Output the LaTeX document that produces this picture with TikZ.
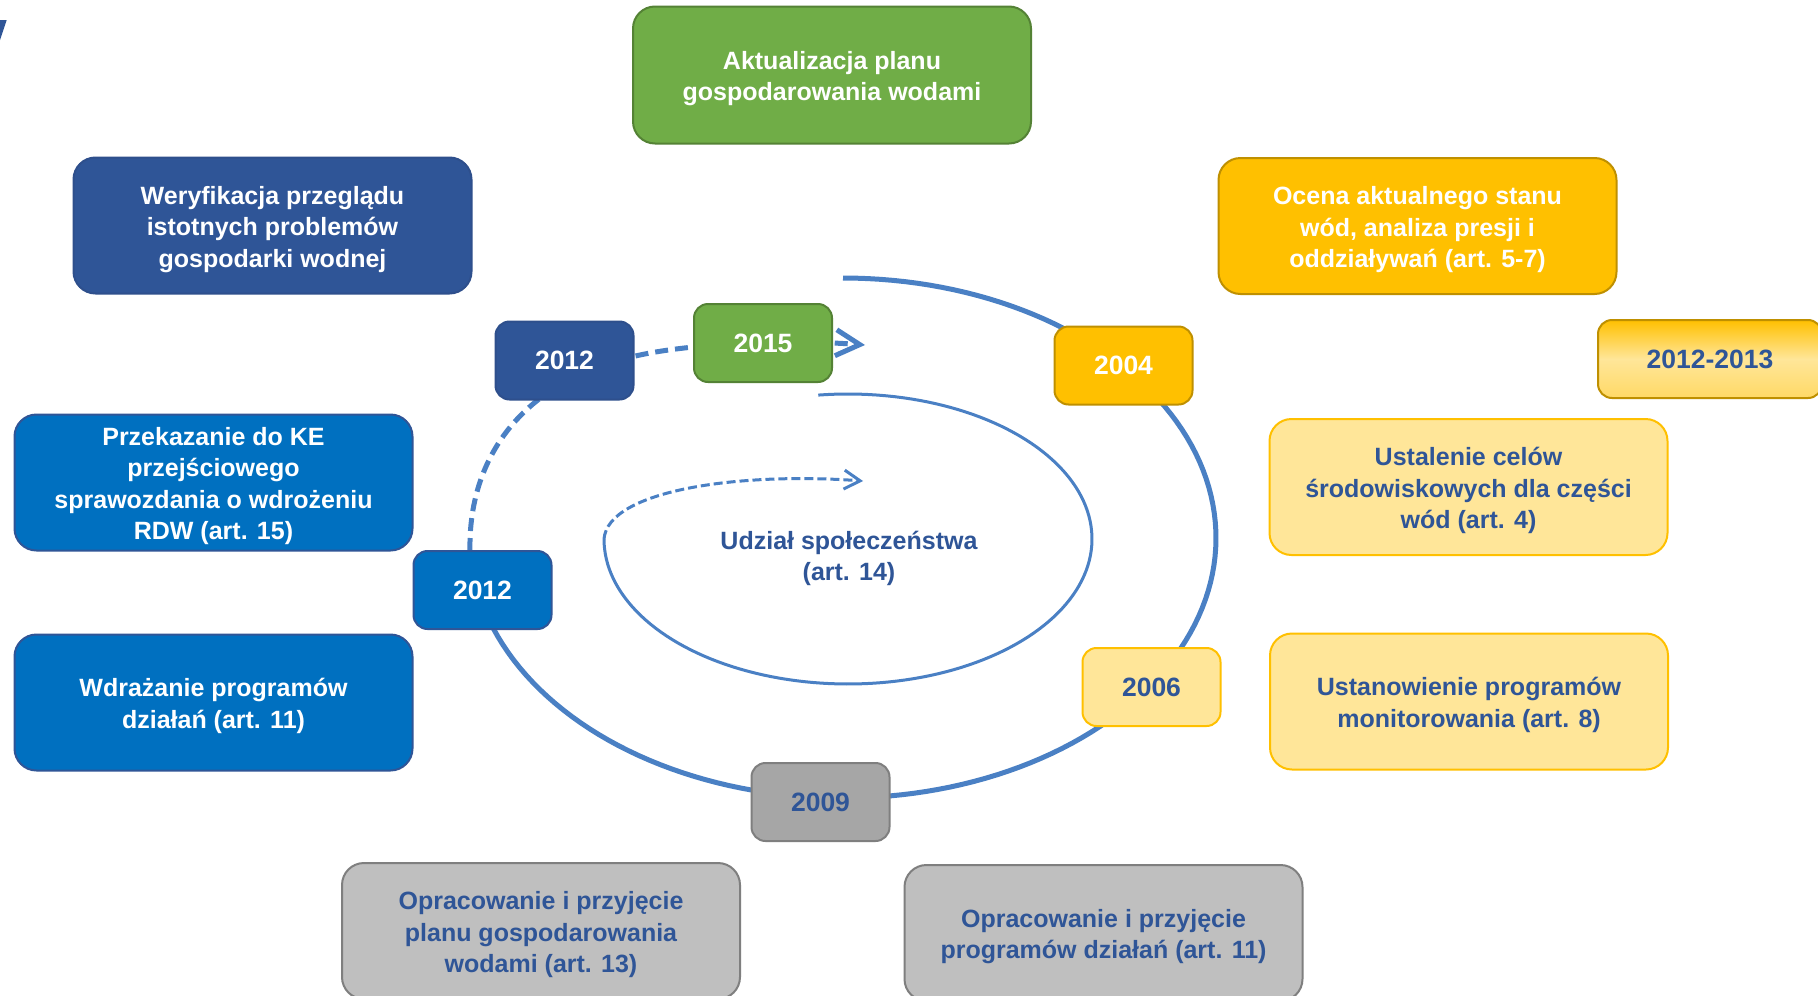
\documentclass[tikz,border=0pt]{standalone}
\usepackage{fontspec}
\setmainfont{Liberation Sans}
\usetikzlibrary{arrows.meta}
\definecolor{cgreen}{HTML}{70AD47}
\definecolor{cgreenb}{HTML}{548235}
\definecolor{cdblue}{HTML}{2F5597}
\definecolor{cdblueb}{HTML}{2E4F8C}
\definecolor{corange}{HTML}{FFC000}
\definecolor{corangeb}{HTML}{BF9000}
\definecolor{cmblue}{HTML}{0070C0}
\definecolor{cyellow}{HTML}{FFE699}
\definecolor{cyellowm}{HTML}{FFD966}
\definecolor{cgray}{HTML}{A6A6A6}
\definecolor{clgray}{HTML}{BFBFBF}
\definecolor{cgrayb}{HTML}{7F7F7F}
\definecolor{cline}{RGB}{74,128,196}
\newcommand\txtfont{\fontsize{25}{31.5}\selectfont\bfseries}
\newcommand\yrfont{\fontsize{26.5}{30}\selectfont\bfseries}
\newcommand\tst{\rule{0pt}{25.5pt}}
\begin{document}
\begin{tikzpicture}[x=1pt,y=-1pt,
  bigbox/.style={rounded corners=22pt, minimum width=398pt, minimum height=136pt,
    align=center, line width=2pt, inner sep=0pt, font=\txtfont},
  yearbox/.style={rounded corners=14pt, minimum width=138pt, minimum height=78pt,
    line width=2pt, inner sep=0pt, font=\yrfont},
  greenst/.style={fill=cgreen, draw=cgreenb, text=white},
  dbluest/.style={fill=cdblue, draw=cdblueb, text=white},
  orangest/.style={fill=corange, draw=corangeb, text=white},
  mbluest/.style={fill=cmblue, draw=cdblue, text=white},
  yellowst/.style={fill=cyellow, draw=corange, text=cdblue},
  grayst/.style={fill=cgray, draw=cgrayb, text=cdblue},
  lgrayst/.style={fill=clgray, draw=cgrayb, text=cdblue},
  outerline/.style={draw=cline, line width=5pt},
  innerline/.style={draw=cline, line width=3pt},
]
\useasboundingbox (0,0) rectangle (1818,996);
\fill[white] (0,0) rectangle (1818,996);

% top-left fragment
\fill[cdblue] (0,20) -- (6.7,20) -- (0,40) -- cycle;

% outer cycle
\draw[outerline] plot[domain=-90:177, samples=140] ({843+373*cos(\x)}, {538+260*sin(\x)});
\coordinate (oS) at (470,551);
\coordinate (oE) at (865,345);
\draw[outerline, dash pattern=on 13pt off 7pt, -{Straight Barb[length=24pt,width=26pt]}]
  (oS) .. controls (468,460) and (520,380) .. (640,355)
       .. controls (700,342) and (800,340) .. (oE);

% inner cycle
\draw[innerline] plot[domain=-97:180, samples=140] ({848+244*cos(\x)}, {539+145*sin(\x)});
\coordinate (iS) at (604,539);
\coordinate (iE) at (863,481);
\draw[innerline, dash pattern=on 9pt off 4pt, -{Straight Barb[length=16pt,width=19pt]}]
  (iS) .. controls (608,490) and (740,472) .. (iE);

% big boxes
\node[bigbox, greenst, minimum width=398pt, minimum height=137pt] (akt) at (832,75)
  {\tst Aktualizacja planu\\gospodarowania wodami};
\node[bigbox, dbluest] (wer) at (272.5,225.5)
  {\tst Weryfikacja przeglądu\\istotnych problemów\\gospodarki wodnej};
\node[bigbox, orangest] (oce) at (1417.5,226)
  {\tst Ocena aktualnego stanu\\wód, analiza presji i\\oddziaływań (art. 5-7)};
\node[bigbox, mbluest] (prz) at (213.5,482.5)
  {\tst Przekazanie do KE\\przejściowego\\sprawozdania o wdrożeniu\\RDW (art. 15)};
\node[bigbox, yellowst] (ust) at (1468.5,487)
  {\tst Ustalenie celów\\środowiskowych dla części\\wód (art. 4)};
\node[bigbox, mbluest] (wdr) at (213.5,702.5)
  {\tst Wdrażanie programów\\działań (art. 11)};
\node[bigbox, yellowst] (mon) at (1469,701.5)
  {\tst Ustanowienie programów\\monitorowania (art. 8)};
\node[bigbox, lgrayst] (opl) at (541,931)
  {\tst Opracowanie i przyjęcie\\planu gospodarowania\\wodami (art. 13)};
\node[bigbox, lgrayst] (opr) at (1103.5,933)
  {\tst Opracowanie i przyjęcie\\programów działań (art. 11)};

% year boxes
\node[yearbox, dbluest] (y2012a) at (564.5,360.5) {2012};
\node[yearbox, greenst] (y2015) at (763,343) {2015};
\node[yearbox, orangest] (y2004) at (1123.5,365.5) {2004};
\node[yearbox, draw=corangeb, text=cdblue, minimum width=224pt,
  top color=corange, bottom color=cyellowm, middle color=cyellow] (y1213) at (1710,359) {2012-2013};
\node[yearbox, mbluest] (y2012b) at (482.5,590) {2012};
\node[yearbox, yellowst] (y2006) at (1151.5,687) {2006};
\node[yearbox, grayst] (y2009) at (820.5,802) {2009};

% centre label
\node[font=\txtfont, text=cdblue, align=center] (udz) at (849,555)
  {\tst Udział społeczeństwa\\(art. 14)};
\end{tikzpicture}
\end{document}
